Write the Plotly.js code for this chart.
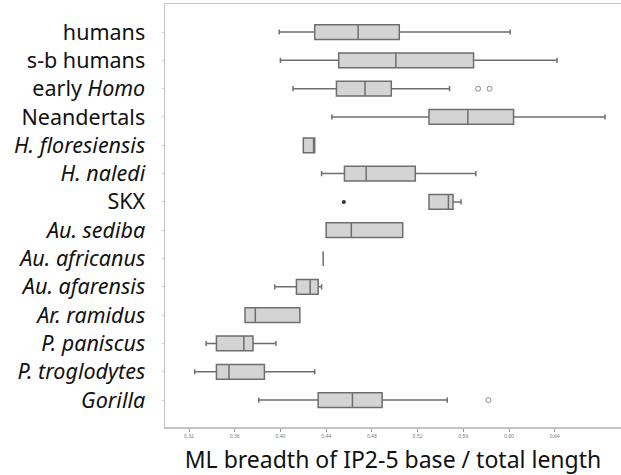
<!DOCTYPE html>
<html>
<head>
<meta charset="utf-8">
<script src="https://cdn.plot.ly/plotly-3.0.1.min.js"></script>
<style>
  html, body { margin: 0; padding: 0; background: #fff; }
  #chart { width: 621px; height: 475px; }
</style>
</head>
<body>
<div id="chart"></div>
<script>
// groups, top to bottom
const grupos = ["humans", "s-b humans", "early Homo", "Neandertals", "H. floresiensis", "H. naledi", "SKX",
  "Au. sediba", "Au. africanus", "Au. afarensis", "Ar. ramidus", "P. paniscus", "P. troglodytes", "Gorilla"];
const etiquetas = ["humans", "s-b humans", "early <i>Homo</i>", "Neandertals", "<i>H. floresiensis</i>", "<i>H. naledi</i>", "SKX",
  "<i>Au. sediba</i>", "<i>Au. africanus</i>", "<i>Au. afarensis</i>", "<i>Ar. ramidus</i>", "<i>P. paniscus</i>", "<i>P. troglodytes</i>", "<i>Gorilla</i>"];

// box stats
const minimos = [0.399, 0.400, 0.411, 0.445, 0.420, 0.436, 0.530, 0.440, 0.4374, 0.395, 0.369, 0.335, 0.325, 0.381];
const q1s     = [0.430, 0.451, 0.449, 0.530, 0.420, 0.456, 0.530, 0.440, 0.4374, 0.414, 0.369, 0.344, 0.344, 0.433];
const medianas= [0.468, 0.501, 0.474, 0.564, 0.429, 0.475, 0.547, 0.462, 0.4374, 0.426, 0.378, 0.368, 0.355, 0.463];
const q3s     = [0.504, 0.569, 0.497, 0.604, 0.430, 0.518, 0.551, 0.507, 0.4374, 0.433, 0.417, 0.376, 0.386, 0.489];
const maximos = [0.601, 0.642, 0.548, 0.684, 0.430, 0.571, 0.558, 0.507, 0.4374, 0.436, 0.417, 0.396, 0.430, 0.546];

// outliers
const atipicosX = [0.573, 0.583, 0.582];
const atipicosY = ["early Homo", "early Homo", "Gorilla"];
const extremosX = [0.4555];
const extremosY = ["SKX"];

const ticksX = [0.32, 0.36, 0.40, 0.44, 0.48, 0.52, 0.56, 0.60, 0.64];

const traceCajas = {
  type: "box",
  orientation: "h",
  y: grupos,
  q1: q1s,
  median: medianas,
  q3: q3s,
  lowerfence: minimos,
  upperfence: maximos,
  fillcolor: "#d4d4d4",
  line: { color: "#6e6e6e", width: 1.5 },
  whiskerwidth: 0.35,
  width: 0.52,
  boxpoints: false,
  hoverinfo: "skip"
};

const traceAtipicos = {
  type: "scatter",
  mode: "markers",
  x: atipicosX,
  y: atipicosY,
  marker: { symbol: "circle-open", size: 5, color: "#8a8a8a", line: { width: 1 } }
};

const traceExtremos = {
  type: "scatter",
  mode: "markers",
  x: extremosX,
  y: extremosY,
  marker: { symbol: "circle", size: 4, color: "#333" }
};

const layout = {
  width: 621,
  height: 475,
  margin: { l: 165, r: 0, t: 4, b: 48 },
  showlegend: false,
  plot_bgcolor: "#fff",
  paper_bgcolor: "#fff",
  font: { family: "Noto Sans, sans-serif", color: "#111" },
  xaxis: {
    range: [0.299, 0.698],
    tickvals: ticksX,
    ticktext: ticksX.map(v => v.toFixed(2)),
    tickfont: { size: 5, color: "#777" },
    ticks: "outside",
    ticklen: 3,
    tickcolor: "#999",
    showgrid: false,
    zeroline: false,
    showline: true,
    mirror: true,
    linecolor: "#c4c4c4",
    linewidth: 1.5,
    title: { text: "ML breadth of IP2-5 base / total length", font: { size: 23, color: "#111" }, standoff: 18 }
  },
  yaxis: {
    type: "category",
    categoryorder: "array",
    categoryarray: grupos,
    range: [13.95, -0.99],
    tickvals: grupos,
    ticktext: etiquetas,
    tickfont: { size: 21.5, color: "#111" },
    ticks: "outside",
    ticklen: 2,
    tickcolor: "#ccc",
    ticklabelstandoff: 12,
    showgrid: false,
    zeroline: false,
    showline: true,
    mirror: true,
    linecolor: "#c4c4c4",
    linewidth: 1.5
  }
};

Plotly.newPlot("chart", [traceCajas, traceAtipicos, traceExtremos], layout, { displayModeBar: false, staticPlot: true });
</script>
</body>
</html>
